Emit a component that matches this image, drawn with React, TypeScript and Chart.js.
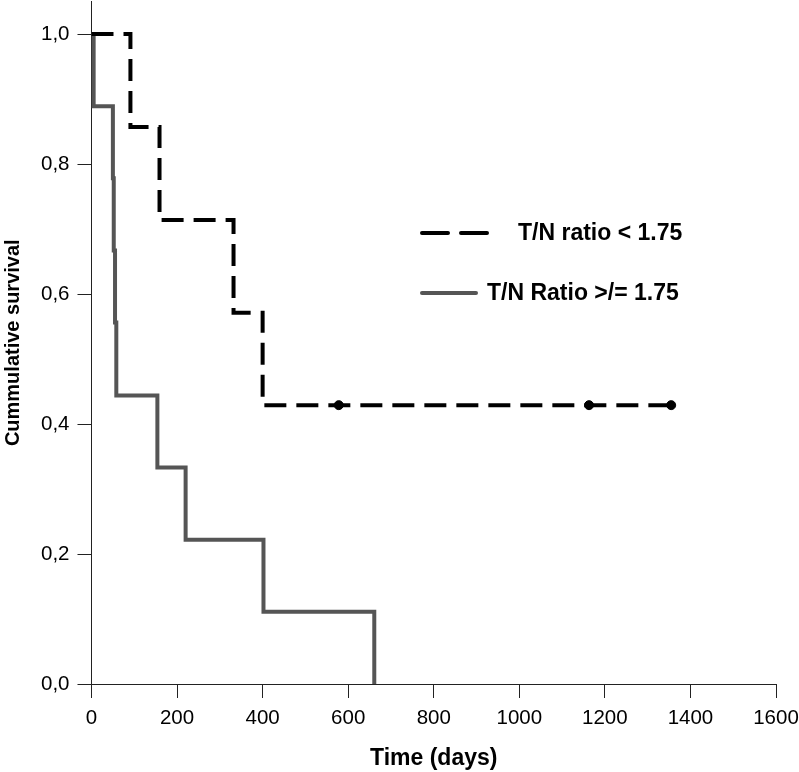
import React, { useEffect, useRef } from "react";
import { Chart, registerables } from "chart.js";

Chart.register(...registerables);

// ---- data ----
const lowLabel = "T/N ratio < 1.75";
const highLabel = "T/N Ratio >/= 1.75";

const lowTimes = [0, 91, 159, 332, 400, 1355];
const lowSurvival = [1.0, 0.857, 0.714, 0.571, 0.429, 0.429];

const lowCensorTimes = [578, 1163, 1355];
const lowCensorSurvival = [0.429, 0.429, 0.429];

const highTimes = [0, 5, 50, 52, 55, 58, 154, 220, 402, 661];
const highSurvival = [1.0, 0.889, 0.778, 0.667, 0.556, 0.444, 0.333, 0.222, 0.111, 0.0];

const timeTicks = [0, 200, 400, 600, 800, 1000, 1200, 1400, 1600];
const survivalTicks = [0.0, 0.2, 0.4, 0.6, 0.8, 1.0];

const xTitle = "Time (days)";
const yTitle = "Cummulative survival";

const FONT = "'Liberation Sans', Arial, sans-serif";
const GRAY = "#555555";

const toPoints = (xs: number[], ys: number[]) => xs.map((x, i) => ({ x, y: ys[i] }));

const legendPlugin = {
  id: "kmLegend",
  afterDraw(chart: any) {
    const ctx = chart.ctx;
    ctx.save();
    ctx.font = `bold 23px ${FONT}`;
    ctx.textBaseline = "middle";
    ctx.fillStyle = "#000";
    // dashed sample
    ctx.lineWidth = 4;
    ctx.lineCap = "round";
    ctx.strokeStyle = "#000";
    ctx.setLineDash([26, 13]);
    ctx.beginPath();
    ctx.moveTo(422, 233);
    ctx.lineTo(487, 233);
    ctx.stroke();
    ctx.setLineDash([]);
    ctx.fillText(chart.data.datasets[0].label, 518, 234);
    // solid sample
    ctx.strokeStyle = GRAY;
    ctx.beginPath();
    ctx.moveTo(422, 293);
    ctx.lineTo(476, 293);
    ctx.stroke();
    ctx.fillStyle = "#000";
    ctx.fillText(chart.data.datasets[1].label, 487, 294);
    ctx.restore();
  },
};

export default function App() {
  const ref = useRef<HTMLCanvasElement>(null);

  useEffect(() => {
    document.body.style.margin = "0";
    const canvas = ref.current;
    if (!canvas) return;
    const chart = new Chart(canvas, {
      type: "line",
      data: {
        datasets: [
          {
            label: lowLabel,
            data: toPoints(lowTimes, lowSurvival),
            borderColor: "#000",
            borderWidth: 4,
            borderDash: [22, 10],
            stepped: "before",
            pointRadius: 0,
            fill: false,
            clip: false as any,
          },
          {
            label: highLabel,
            data: toPoints(highTimes, highSurvival),
            borderColor: GRAY,
            borderWidth: 4,
            stepped: "before",
            pointRadius: 0,
            fill: false,
            clip: false as any,
          },
          {
            label: "censored",
            data: toPoints(lowCensorTimes, lowCensorSurvival),
            showLine: false,
            pointRadius: 4.5,
            pointBackgroundColor: "#000",
            pointBorderColor: "#000",
            borderColor: "#000",
            clip: false as any,
          },
        ],
      },
      options: {
        responsive: false,
        animation: false,
        layout: { autoPadding: false, padding: { top: 1.5, right: 23, bottom: 0, left: 0 } },
        plugins: {
          legend: { display: false },
          tooltip: { enabled: false },
        },
        scales: {
          x: {
            type: "linear",
            min: 0,
            max: 1600,
            afterBuildTicks: (s: any) => {
              s.ticks = timeTicks.map((v) => ({ value: v }));
            },
            afterFit: (s: any) => {
              s.paddingLeft = 0;
              s.paddingRight = 0;
            },
            ticks: {
              color: "#000",
              padding: 8,
              font: { family: FONT, size: 20.5 },
              callback: (v: any) => String(v),
            },
            grid: { drawOnChartArea: false, drawTicks: true, tickLength: 14, color: "#222", lineWidth: 1 },
            border: { display: true, color: "#222", width: 1 },
            title: {
              display: true,
              text: xTitle,
              color: "#000",
              font: { family: FONT, size: 23, weight: "bold" },
              padding: { top: 5.8, bottom: 0 },
            },
          },
          y: {
            type: "linear",
            min: 0,
            max: 1.05,
            afterBuildTicks: (s: any) => {
              s.ticks = survivalTicks.map((v) => ({ value: v }));
            },
            afterFit: (s: any) => {
              s.paddingTop = 0;
              s.paddingBottom = 0;
            },
            ticks: {
              color: "#000",
              padding: 8,
              font: { family: FONT, size: 20.5 },
              callback: (v: any) => Number(v).toFixed(1).replace(".", ","),
            },
            grid: { drawOnChartArea: false, drawTicks: true, tickLength: 14, color: "#222", lineWidth: 1 },
            border: { display: true, color: "#222", width: 1 },
            title: {
              display: true,
              text: yTitle,
              color: "#000",
              font: { family: FONT, size: 20, weight: "bold" },
              padding: { top: 1, bottom: 8 },
            },
          },
        },
      },
      plugins: [legendPlugin],
    });
    return () => chart.destroy();
  }, []);

  return (
    <div style={{ width: 799, height: 772 }}>
      <canvas ref={ref} width={799} height={772} style={{ width: 799, height: 772, display: "block" }} />
    </div>
  );
}
